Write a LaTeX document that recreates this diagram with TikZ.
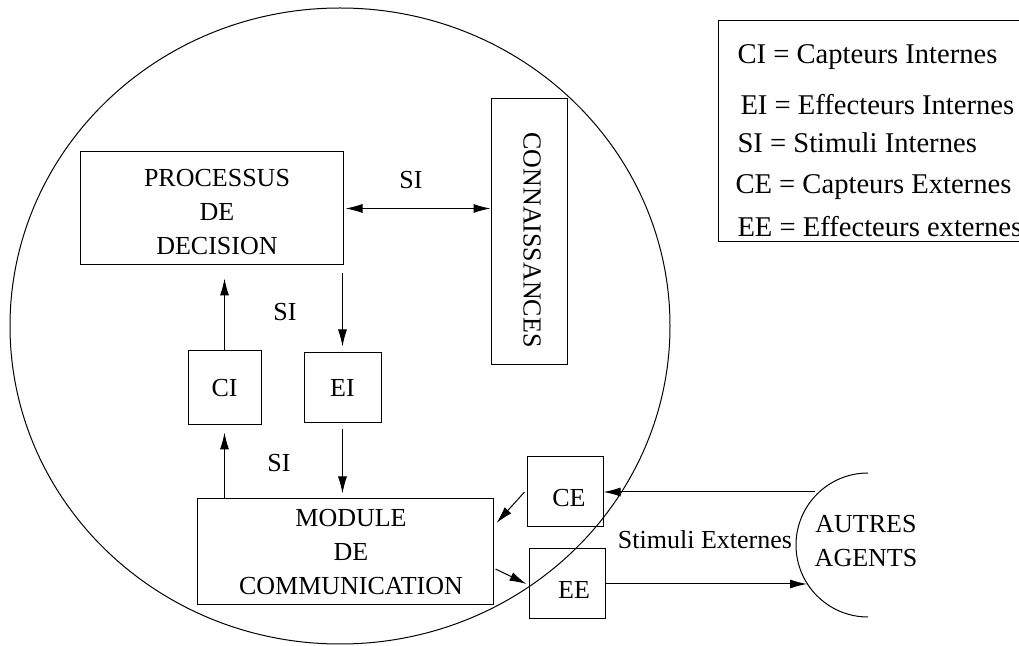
\documentclass[tikz,border=0pt]{standalone}
\usepackage{fontspec}
\setmainfont{Liberation Serif}
\usepackage{graphicx}
\usetikzlibrary{arrows.meta,
				calc,
				positioning}

% texte sur plusieurs lignes, decale vers le bas
\newcommand{\lignes}[2]{\raisebox{-#1}[\height][\depth]{\begin{tabular}{@{}c@{}}#2\end{tabular}}}

\begin{document}
\begin{tikzpicture}[x=0.5pt, y=-0.5pt, line width=0.5pt,
	bloc/.style={draw, align=center, inner sep=0pt, font=\fontsize{13}{17}\selectfont},
	txt/.style={inner sep=0pt, font=\fontsize{13}{17}\selectfont},
	leg/.style={inner sep=0pt, anchor=west, font=\fontsize{14.3}{17}\selectfont},
	fl/.style={-{Latex[length=8.5pt, width=4.5pt]}},
	fll/.style={{Latex[length=8.5pt, width=4.5pt]}-{Latex[length=8.5pt, width=4.5pt]}}]

\useasboundingbox (0,0) rectangle (1019,646);
\clip (0,0) rectangle (1019,646);

% agent
\draw (340,326) ellipse [x radius=330, y radius=318];

\node[bloc, minimum width=131.5pt, minimum height=56.5pt] (pdd) at (211.5,208.5) {\hspace{5.5pt}\lignes{2.75pt}{PROCESSUS\\DE\hspace{7pt}\\DECISION}};
\node[bloc, minimum width=38pt, minimum height=133pt] (conn) at (529,232) {\hspace{3pt}\raisebox{-4pt}[\height][\depth]{\rotatebox{-90}{CONNAISSANCES}}};
\node[bloc, minimum width=36.5pt, minimum height=37pt] (ci) at (224.5,388) {CI};
\node[bloc, minimum width=38.5pt, minimum height=35pt] (ei) at (342.5,388) {EI};
\node[bloc, minimum width=148pt, minimum height=53pt] (mod) at (345,552) {\hspace{6pt}\lignes{1pt}{MODULE\hspace{12pt}\\DE\hspace{12pt}\\COMMUNICATION}};
\node[bloc, minimum width=38pt, minimum height=35pt] (ce) at (565,492) {\hspace{4pt}\raisebox{-3pt}[\height][\depth]{CE}};
\node[bloc, minimum width=38pt, minimum height=35pt] (ee) at (567,584) {\hspace{7pt}\raisebox{-3pt}[\height][\depth]{EE}};

\node[txt] (si1) at (411,180) {SI};
\node[txt] (si2) at (285,312) {SI};
\node[txt] (si3) at (279,463) {SI};

\draw[fll] ([xshift=1pt]pdd.east) -- (conn.west |- pdd.east);
\draw[fl] ([yshift=-4pt]pdd.south -| ei) -- ([yshift=3pt]ei.north);
\draw[fl] (ci.north) -- ([yshift=-6.5pt]ci.north |- pdd.south);
\draw[fl] ([yshift=-3pt]ei.south) -- ([yshift=2.5pt]ei.south |- mod.north);
\draw[fl] (mod.north -| ci) -- ([yshift=-3.5pt]ci.south);
\draw[fl] ([xshift=-1pt]ce.west) -- ([shift={(1.5pt,14.5pt)}]mod.east);
\draw[fl] ([shift={(1pt,-8.5pt)}]mod.east) -- ([xshift=-1pt]ee.west);

% autres agents
\draw (868,473) arc [start angle=270, end angle=90, radius=72];
\node[txt, align=center] (autres) at (866,541) {AUTRES\\AGENTS};
\coordinate (aHaut) at (815,492);
\coordinate (aBas) at (807,584);
\node[txt] (stim) at (705,540) {Stimuli Externes};

\draw[fl] (aHaut) -- (ce.east);
\draw[fl] (ee.east) -- (aBas);

% legende
\draw (718,21) rectangle (1040,242);
\node[leg] (l1) at (737,57) {CI = Capteurs Internes};
\node[leg] (l2) at (740,105) {EI = Effecteurs Internes};
\node[leg] (l3) at (737,143) {SI = Stimuli Internes};
\node[leg] (l4) at (735,187) {CE = Capteurs Externes};
\node[leg] (l5) at (737,227) {EE = Effecteurs externes};

\end{tikzpicture}
\end{document}
